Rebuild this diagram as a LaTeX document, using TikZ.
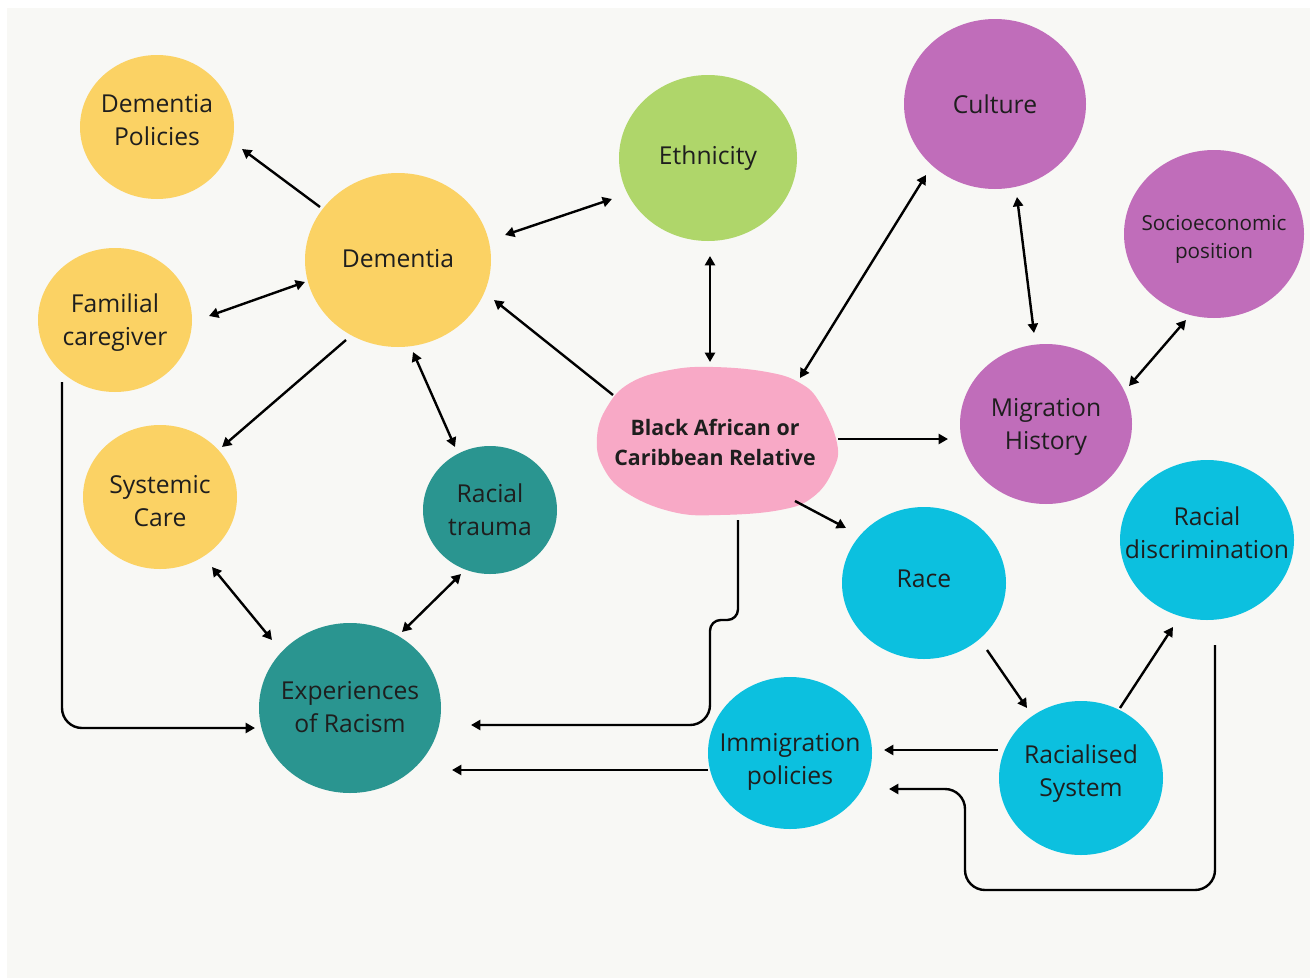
\documentclass[tikz,border=0pt]{standalone}
\usepackage{fontspec}
\setmainfont{Open Sans}
\usetikzlibrary{arrows.meta,shapes.geometric,calc}
\definecolor{bgc}{HTML}{F8F8F5}
\definecolor{yel}{HTML}{FBD264}
\definecolor{grn}{HTML}{AFD66A}
\definecolor{pur}{HTML}{C06DBA}
\definecolor{tea}{HTML}{2A9590}
\definecolor{cyn}{HTML}{0CC0DF}
\definecolor{pnk}{HTML}{F8A9C6}
\definecolor{txt}{HTML}{1E1E1E}
% text block raised by #1 (visual centre), zero-size box
\newcommand\tx[2]{\raisebox{\dimexpr #1-0.25em-1.6pt\relax}[0pt][0pt]{\begin{tabular}{@{}c@{}}#2\end{tabular}}}
\tikzset{
 bub/.style={ellipse, inner sep=-40pt, text=txt, font=\fontsize{18.5}{24.75}\selectfont},
 sz/.style 2 args={minimum width=#1*1.5pt, minimum height=#2*1.5pt},
 con/.style={line width=1.8pt, draw=black},
 one/.style={con,-{Triangle[length=7pt,width=7.5pt]}},
 two/.style={con,{Triangle[length=7pt,width=7.5pt]}-{Triangle[length=7pt,width=7.5pt]}}
}
\begin{document}
\begin{tikzpicture}[x=0.75pt,y=-0.75pt]
\fill[white] (0,0) rectangle (1314,978);
\fill[bgc] (7,8) rectangle (1310,978);
% nodes
\node[bub, sz={77}{72}, fill=yel] (pol) at (157,127) {\tx{5.6pt}{Dementia\\Policies}};
\node[bub, sz={93}{87}, fill=yel] (dem) at (398,260) {\tx{1.5pt}{Dementia}};
\node[bub, sz={77}{72}, fill=yel] (fam) at (115,320) {\tx{0pt}{Familial\\caregiver}};
\node[bub, sz={77}{72}, fill=yel] (sys) at (160,497) {\tx{-2.6pt}{Systemic\\Care}};
\node[bub, sz={67}{64}, fill=tea] (rt) at (490,510) {\tx{0pt}{Racial\\trauma}};
\node[bub, sz={91}{85}, fill=tea] (exp) at (350,708) {\tx{1pt}{Experiences\\of Racism}};
\node[bub, sz={89}{83}, fill=grn] (eth) at (708,158) {\tx{2.2pt}{Ethnicity}};
\node[bub, sz={91}{85}, fill=pur] (cul) at (995,104) {\tx{0pt}{Culture}};
\node[bub, sz={90}{84}, fill=pur, font=\fontsize{15.5}{21}\selectfont] (soc) at (1214,234) {\tx{-1.5pt}{Socioeconomic\\position}};
\node[bub, sz={86}{80}, fill=pur] (mig) at (1046,424) {\tx{0pt}{Migration\\History}};
\node[bub, sz={82}{76}, fill=cyn] (race) at (924,583) {\tx{3.75pt}{Race}};
\node[bub, sz={87}{80}, fill=cyn] (rd) at (1207,540) {\tx{5.6pt}{Racial\\discrimination}};
\node[bub, sz={82}{77}, fill=cyn] (rs) at (1081,778) {\tx{5.6pt}{Racialised\\System}};
\node[bub, sz={82}{76}, fill=cyn] (imm) at (790,753) {\tx{-4.5pt}{Immigration\\policies}};
\fill[pnk] plot[smooth cycle, tension=0.7] coordinates {(713,367) (767,372) (800,383) (820,403) (837,443) (833,470) (813,497) (780,510) (720,515) (673,512) (627,493) (603,467) (597,437) (607,407) (630,383) (670,370)};
\node[inner sep=0pt, text=txt, font=\fontsize{16}{22.5}\selectfont\bfseries] (blob) at (715,442) {\tx{-0.6pt}{Black African or\\Caribbean Relative}};
% connectors
\draw[one] ($(dem)+(-78,-53)$) -- ($(pol)+(85,22)$);
\draw[two] ($(dem)+(107,-25)$) -- ($(eth)+(-96,41)$);
\draw[two] ($(dem)+(-93,22)$) -- ($(fam)+(94,-4)$);
\draw[one] ($(dem)+(-52,80)$) -- ($(sys)+(62,-50)$);
\draw[two] ($(dem)+(15,92)$) -- ($(rt)+(-35,-63)$);
\draw[one] ($(blob)+(-102,-47)$) -- ($(dem)+(96,40)$);
\draw[two] ($(eth)+(2,98)$) -- ($(blob)+(-5,-80)$);
\draw[two] ($(blob)+(85,-64)$) -- ($(cul)+(-69,71)$);
\draw[two] ($(cul)+(22,93)$) -- ($(mig)+(-12,-91)$);
\draw[two] ($(mig)+(83,-38)$) -- ($(soc)+(-28,86)$);
\draw[one] ($(blob)+(123,-3)$) -- ($(mig)+(-98,15)$);
\draw[one] ($(blob)+(80,59)$) -- ($(race)+(-78,-55)$);
\draw[one] ($(race)+(63,67)$) -- ($(rs)+(-54,-70)$);
\draw[one] ($(rs)+(39,-70)$) -- ($(rd)+(-34,87)$);
\draw[one] ($(rs)+(-83,-28)$) -- ($(imm)+(94,-3)$);
\draw[one, rounded corners=15pt] ($(rd)+(8,105)$) -- ++(0,245) -- ++(-250,0) -- ++(0,-101) -- ($(imm)+(99,36)$);
\draw[one] ($(imm)+(-82,17)$) -- ($(exp)+(102,62)$);
\draw[one, rounded corners=8pt] ($(blob)+(23,78)$) -- ++(0,100) -- ++(-28,0) [rounded corners=15pt] -- ++(0,105) -- ($(exp)+(121,17)$);
\draw[one, rounded corners=15pt] ($(fam)+(-53,62)$) -- ++(0,346) -- ($(exp)+(-95,20)$);
\draw[two] ($(sys)+(52,70)$) -- ($(exp)+(-78,-68)$);
\draw[two] ($(rt)+(-29,64)$) -- ($(exp)+(52,-76)$);
\end{tikzpicture}
\end{document}
